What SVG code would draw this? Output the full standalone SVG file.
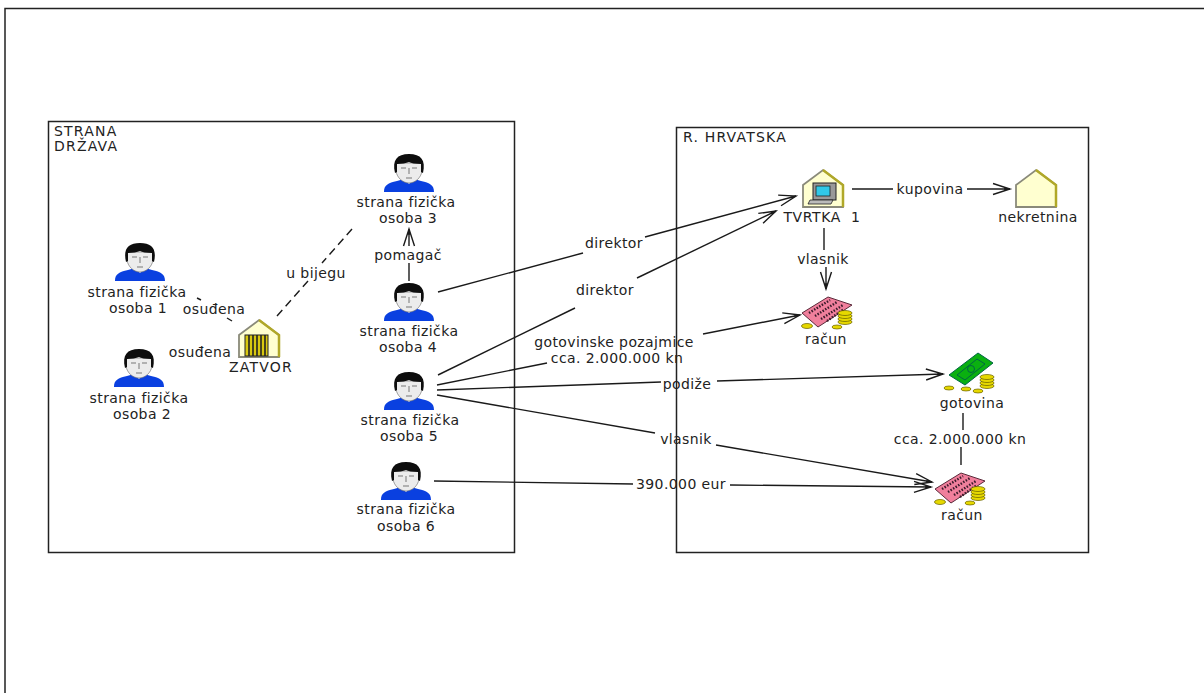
<svg xmlns="http://www.w3.org/2000/svg" width="1204" height="693" viewBox="0 0 1204 693">
<style>
text{font-family:"DejaVu Sans","Liberation Sans",sans-serif;font-size:14px;letter-spacing:.4px;fill:#222;text-anchor:middle;white-space:pre}
.l{text-anchor:start}
.u{letter-spacing:1.2px}
.t{letter-spacing:.6px}
.f{fill:none;stroke:#222;stroke-width:1.5}
.c line{stroke:#1a1a1a;stroke-width:1.4;fill:none}
.a{marker-end:url(#arr)}
.d{stroke-dasharray:8 5}
.co{fill:#e6d800;stroke:#665f00;stroke-width:.7}
</style>
<defs>
<marker id="arr" markerUnits="userSpaceOnUse" markerWidth="22" markerHeight="18" refX="18" refY="9" orient="auto">
<path d="M1 3.500L18 9L1 14.500M18 9L12 9" fill="none" stroke="#1a1a1a" stroke-width="1.4"/>
</marker>
<g id="person">
<path d="M-25 38C-25 31-21 29-12 27L-5 25L0 30L5 25L12 27C21 29 25 31 25 38Z" fill="#0a40e0"/>
<path d="M-13 9V17C-12 24-6 29 0 29S12 24 13 17V9Z" fill="#ececec" stroke="#777" stroke-width=".7"/>
<path d="M-14 19C-17 6-12 0 0 0S17 6 14 19L12 18V10C6 10 2 9 0 8C-3 9-7 10-12 10V18Z" fill="#0d0d0d"/>
<path d="M-8 14H-3M3 14H8M0 14V20M-3 24H3" fill="none" stroke="#777" stroke-width="1"/>
</g>
<g id="house">
<path d="M-20 15L0 0L20 15V37H-20Z" fill="#ffffd0" stroke="#8a8a7a" stroke-width="1.800"/>
<path d="M0 0L20 15V37" fill="none" stroke="#b0a828" stroke-width="2.500"/>
</g>
<g id="coins">
<ellipse class="co" cx="0" cy="0" rx="7" ry="2.500"/>
<ellipse class="co" cx="0" cy="-3" rx="7" ry="2.500"/>
<ellipse class="co" cx="0" cy="-6" rx="7" ry="2.500"/>
<ellipse class="co" cx="0" cy="-9" rx="7" ry="2.500"/>
</g>
<g id="account">
<path d="M-23 5L3 -11L27 -3L-7 19Z" fill="#f07f9c" stroke="#5a2a3a" stroke-width="1"/>
<path d="M-16 5L5 -8M-10 8L12 -6M-4 11L18 -3M2 13L19 1" stroke="#3a1a2a" stroke-width="2.400" stroke-dasharray="1.500 1.500" fill="none"/>
<use href="#coins" x="20" y="14"/>
<ellipse class="co" cx="-18" cy="18" rx="5.500" ry="2.500"/>
<ellipse class="co" cx="12" cy="19" rx="5" ry="2"/>
</g>
</defs>
<rect width="1204" height="693" fill="#fff"/>
<path id="frame" d="M5 693V8.500H1204" class="f"/>
<g id="strana-drzava"><rect x="48.500" y="121.500" width="466" height="431" class="f"/><text class="l u" x="54" y="136">STRANA</text><text class="l u" x="54" y="151">DRŽAVA</text></g>
<g id="hrvatska"><rect x="676.500" y="127.500" width="412" height="425" class="f"/><text class="l u" x="683" y="142">R. HRVATSKA</text></g>
<g id="connectors" class="c">
<line x1="197" y1="298" x2="201" y2="300"/><line x1="227" y1="318" x2="232" y2="321"/>
<line class="d" x1="277" y1="316" x2="308" y2="281"/><line class="d" x1="352" y1="229" x2="322" y2="263"/>
<line x1="409" y1="281" x2="409" y2="263"/><line class="a" x1="409" y1="246" x2="409" y2="229"/>
<line x1="438" y1="292" x2="583" y2="253"/><line class="a" x1="645" y1="237" x2="796" y2="196"/>
<line x1="438" y1="375" x2="575" y2="308"/><line class="a" x1="637" y1="278" x2="776" y2="211"/>
<line x1="437" y1="385" x2="547" y2="363"/><line class="a" x1="703" y1="334" x2="800" y2="315"/>
<line x1="437" y1="390" x2="661" y2="382"/><line class="a" x1="717" y1="381" x2="943" y2="374"/>
<line x1="437" y1="395" x2="655" y2="433"/><line class="a" x1="716" y1="445" x2="932" y2="482"/>
<line x1="434" y1="481" x2="633" y2="484"/><line class="a" x1="730" y1="485" x2="931" y2="487"/>
<line x1="852" y1="189" x2="893" y2="189"/><line class="a" x1="967" y1="189" x2="1010" y2="189"/>
<line x1="824" y1="228" x2="824" y2="250"/><line class="a" x1="826" y1="267" x2="826" y2="289"/>
<line x1="963" y1="413" x2="963" y2="430"/><line x1="961" y1="447" x2="961" y2="465"/>
</g>
<g id="labels">
<text x="214" y="314">osuđena</text><text x="200" y="357">osuđena</text><text x="316" y="278">u bijegu</text><text x="408" y="260">pomagač</text>
<text x="614" y="248">direktor</text><text x="605" y="295">direktor</text>
<text x="614" y="347">gotovinske pozajmice</text><text x="617" y="363">cca. 2.000.000 kn</text>
<text x="687" y="389">podiže</text><text x="686" y="444">vlasnik</text><text x="681" y="489">390.000 eur</text>
<text x="930" y="194">kupovina</text><text x="823" y="264">vlasnik</text><text x="960" y="444">cca. 2.000.000 kn</text>
</g>
<g id="p1"><use href="#person" x="140" y="243"/><text x="137" y="297">strana fizička</text><text x="138" y="313">osoba 1</text></g>
<g id="p2"><use href="#person" x="139" y="349"/><text x="139" y="403">strana fizička</text><text x="142" y="419">osoba 2</text></g>
<g id="p3"><use href="#person" x="409" y="154"/><text x="406" y="207">strana fizička</text><text x="408" y="223">osoba 3</text></g>
<g id="p4"><use href="#person" x="409" y="283"/><text x="409" y="336">strana fizička</text><text x="408" y="352">osoba 4</text></g>
<g id="p5"><use href="#person" x="409" y="372"/><text x="410" y="425">strana fizička</text><text x="409" y="441">osoba 5</text></g>
<g id="p6"><use href="#person" x="406" y="462"/><text x="406" y="514">strana fizička</text><text x="406" y="531">osoba 6</text></g>
<g id="zatvor"><use href="#house" x="259" y="320"/><rect x="245" y="335" width="23" height="21" fill="#d8c810" stroke="#222"/><path d="M249 335V356M253 335V356M257 335V356M261 335V356M265 335V356" stroke="#222" stroke-width="1.600"/><text class="u" x="261" y="372">ZATVOR</text></g>
<g id="tvrtka"><use href="#house" x="823" y="170"/><rect x="813" y="183" width="23" height="17" fill="#999" stroke="#222"/><rect x="816" y="186" width="14" height="10" fill="#30c8e8" stroke="#222" stroke-width=".8"/><path d="M810 200H833L831 204H808Z" fill="#bbb" stroke="#222" stroke-width=".8"/><text class="t" x="822" y="222">TVRTKA  1</text></g>
<g id="nekretnina"><use href="#house" x="1036" y="170"/><text x="1038" y="222">nekretnina</text></g>
<g id="racun1"><use href="#account" x="825" y="308"/><text x="826" y="344">račun</text></g>
<g id="gotovina"><path d="M949 375L978 353L993 363L965 385Z" fill="#0ab010" stroke="#064" stroke-width="1"/><path d="M957 375L977 359L985 364L965 380Z" fill="none" stroke="#064"/><circle cx="971" cy="369" r="3.500" fill="none" stroke="#064"/><use href="#coins" x="987" y="386"/><ellipse class="co" cx="949" cy="388" rx="5" ry="2"/><ellipse class="co" cx="966" cy="389" rx="5" ry="2"/><ellipse class="co" cx="978" cy="391" rx="5" ry="2"/><text x="972" y="408">gotovina</text></g>
<g id="racun2"><use href="#account" x="958" y="484"/><text x="962" y="520">račun</text></g>
</svg>
